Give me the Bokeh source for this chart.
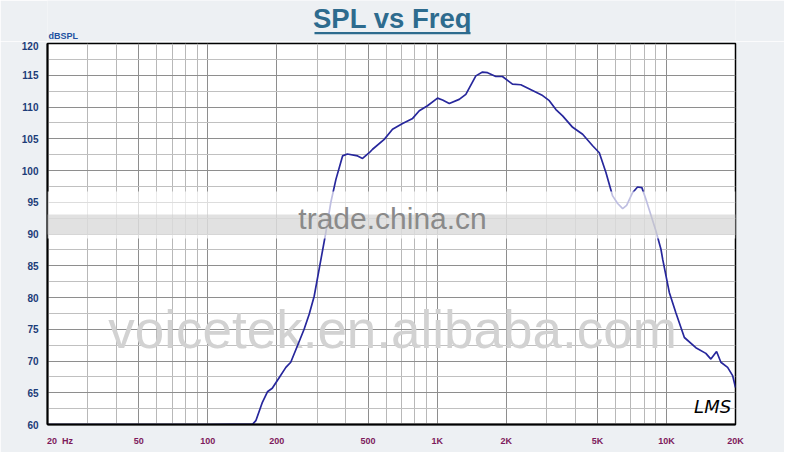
from bokeh.plotting import figure
from bokeh.layouts import column
from bokeh.models import FixedTicker, BoxAnnotation, Range1d
from bokeh.core.properties import value
from bokeh.embed import file_html
from bokeh.resources import INLINE

# ---- data ----
freq_hz = [20, 100, 157, 162, 173, 182, 191, 205, 219, 230, 246, 263, 277, 291,
           306, 327, 344, 362, 387, 406, 450, 473, 506, 523, 588, 639, 707, 782,
           836, 908, 1004, 1056, 1130, 1248, 1334, 1475, 1577, 1659, 1803, 1927,
           2131, 2317, 2606, 2884, 3084, 3296, 3525, 3899, 4310, 4765, 5095, 5446,
           5823, 6126, 6442, 6703, 7115, 7479, 7813, 8130, 8990, 9462, 9630, 10290,
           10990, 11970, 13430, 14850, 15620, 16540, 17270, 18480, 19430, 20000]
spl_db = [60, 60, 60.05, 60.6, 63.5, 65.15, 65.7, 67.4, 69.0, 69.8, 72.4, 75.0, 77.4, 80.2,
          84.5, 90.2, 95.0, 98.6, 102.3, 102.6, 102.3, 101.9, 102.8, 103.35, 104.9, 106.5, 107.4, 108.2,
          109.4, 110.2, 111.4, 111.1, 110.55, 111.2, 112.0, 114.9, 115.5, 115.4, 114.8, 114.8,
          113.6, 113.5, 112.6, 111.8, 111.0, 109.6, 108.6, 106.8, 105.7, 103.9, 102.8, 99.7,
          96.0, 94.8, 94.0, 94.5, 96.5, 97.4, 97.3, 95.5, 90.5, 87.6, 86.0, 80.8,
          77.6, 73.7, 72.1, 71.2, 70.3, 71.5, 69.8, 69.0, 67.7, 65.8]

x_ticks = [20, 50, 100, 200, 500, 1000, 2000, 5000, 10000, 20000]
x_tick_labels = ["\u00a0" * 10 + "20\u00a0\u00a0Hz", "50", "100", "200", "500",
                 "1K", "2K", "5K", "10K", "20K"]
x_minor = [30, 40, 60, 70, 80, 90, 300, 400, 600, 700, 800, 900,
           3000, 4000, 6000, 7000, 8000, 9000]
y_ticks = [60, 65, 70, 75, 80, 85, 90, 95, 100, 105, 110, 115, 120]
y_minor = [62.5, 67.5, 72.5, 77.5, 82.5, 87.5, 92.5, 97.5, 102.5, 107.5, 112.5, 117.5]

title_text = "SPL vs Freq"
y_unit_text = "dBSPL"

BG = "#edf0f3"
TITLE_COLOR = "#2d6b8e"
BORDERS = dict(min_border_left=47, min_border_right=49)

# window-pixel -> data helpers for decorative annotations in the chart
def fx(px):
    return 20 * 10 ** ((px - 55) / 229.3)

def fy(py):
    return 120 - (py - 51) / 6.35

# ---------- header strip (title + unit); its frame is aligned with the chart's ----------
top = figure(width=784, height=41, x_range=Range1d(55, 743), y_range=Range1d(49, 8),
             x_axis_type=None, y_axis_type=None, output_backend="svg",
             toolbar_location=None, min_border_top=0, min_border_bottom=0, **BORDERS)
top.background_fill_color = BG
top.border_fill_color = BG
top.outline_line_color = None
top.grid.visible = False

top.text(x=[400], y=[25.6], text=[title_text], text_align="center",
         text_baseline="middle", text_font=value("Liberation Sans"),
         text_font_size="27.5px", text_font_style="bold", text_color=TITLE_COLOR)
top.segment(x0=[322], y0=[40.6], x1=[478], y1=[40.6], line_color=TITLE_COLOR,
            line_width=2.4)
top.text(x=[56], y=[43.6], text=[y_unit_text], text_align="left",
         text_baseline="middle", text_font=value("Liberation Sans"),
         text_font_size="9px", text_font_style="bold", text_color="#2250a0")

# ---------- main chart ----------
p = figure(width=784, height=411, x_axis_type="log",
           x_range=Range1d(20, 20000), y_range=Range1d(60, 120),
           output_backend="svg", toolbar_location=None,
           min_border_top=2, min_border_bottom=28, **BORDERS)

p.background_fill_color = "white"
p.border_fill_color = BG
p.outline_line_color = "black"
p.outline_line_width = 1.5

xt = FixedTicker(ticks=x_ticks, minor_ticks=x_minor)
yt = FixedTicker(ticks=y_ticks, minor_ticks=y_minor)
p.xaxis.ticker = xt
p.yaxis.ticker = yt
p.xgrid.ticker = xt
p.ygrid.ticker = yt
p.xaxis.major_label_overrides = {t: l for t, l in zip(x_ticks, x_tick_labels)}

p.xgrid.grid_line_color = "#8e8e8e"
p.xgrid.minor_grid_line_color = "#b8b8b8"
p.ygrid.grid_line_color = "#8e8e8e"
p.ygrid.minor_grid_line_color = "#c0c0c0"

for ax in (p.xaxis, p.yaxis):
    ax.axis_line_color = "black"
    ax.axis_line_width = 2
    ax.major_tick_line_color = None
    ax.minor_tick_line_color = None
    ax.major_label_text_font = "Liberation Sans"
    ax.major_label_text_font_style = "bold"

p.xaxis.major_label_text_font_size = "9px"
p.xaxis.major_label_text_color = "#7d1a5c"
p.xaxis.major_label_standoff = 5
p.yaxis.major_label_text_font_size = "10px"
p.yaxis.major_label_text_color = "#1c3c78"
p.yaxis.major_label_standoff = 3

# watermark text behind the curve
p.text(x=[fx(400)], y=[fy(337)], text=["voicetek.en.alibaba.com"],
       text_align="center", text_baseline="middle",
       text_font=value("Liberation Sans"), text_font_size="53px",
       text_color="#d2d2d2")

p.line(freq_hz, spl_db, line_color="#27279c", line_width=1.7)

# translucent band with watermark
p.add_layout(BoxAnnotation(bottom=fy(246), top=fy(199), fill_color="white",
                           fill_alpha=0.7, line_color=None))
p.add_layout(BoxAnnotation(left=fx(40), right=fx(748), bottom=fy(242), top=fy(222),
                           fill_color="#c4c4c4", fill_alpha=0.5, line_color=None))
p.text(x=[fx(400)], y=[fy(226.3)], text=["trade.china.cn"],
       text_align="center", text_baseline="middle",
       text_font=value("Liberation Sans"), text_font_size="30px",
       text_color="#8a8a8a", level="overlay")

p.text(x=[fx(720)], y=[fy(414)], text=["LMS"],
       text_align="center", text_baseline="middle",
       text_font=value("DejaVu Sans"), text_font_size="18px",
       text_font_style="italic", text_color="black")

layout = column(top, p, spacing=0)
open("out.html", "w").write(file_html(layout, INLINE))
